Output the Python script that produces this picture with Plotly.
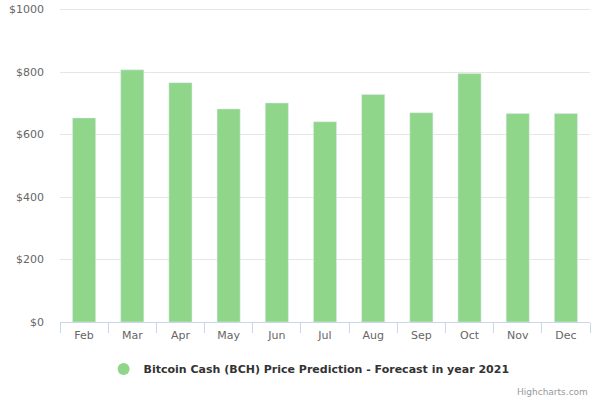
import plotly.graph_objects as go

months = ["Feb", "Mar", "Apr", "May", "Jun", "Jul", "Aug", "Sep", "Oct", "Nov", "Dec"]
prices = [653, 807, 766, 682, 701, 641, 728, 670, 795, 667, 667]
series_name = "Bitcoin Cash (BCH) Price Prediction - Forecast in year 2021"
y_ticks = [0, 200, 400, 600, 800, 1000]
y_labels = ["$0", "$200", "$400", "$600", "$800", "$1000"]

color = "#8fd68a"
font = "DejaVu Sans"

fig = go.Figure()
fig.add_trace(go.Bar(x=months, y=prices, marker_color=color, width=0.48,
                     showlegend=False, hoverinfo="x+y"))
fig.add_trace(go.Scatter(x=[months[0]], y=[None], mode="markers",
                         marker=dict(color=color, size=12, symbol="circle"),
                         name="<b>" + series_name + "</b>", showlegend=True))

fig.update_layout(
    width=600, height=399,
    margin=dict(l=60, r=10, t=8, b=77, autoexpand=False),
    paper_bgcolor="white", plot_bgcolor="white",
    font=dict(family=font, size=11, color="#666666"),
    bargap=0.52,
    xaxis=dict(
        type="category", range=[-0.5, len(months) - 0.5],
        showline=True, linecolor="#ccd6eb", linewidth=1,
        ticks="outside", tickson="boundaries", ticklen=10, tickcolor="#ccd6eb",
        showgrid=False, tickfont=dict(size=11, color="#666666"),
        ticklabelstandoff=3, automargin=False, fixedrange=True,
    ),
    yaxis=dict(
        range=[0, 1005], tickvals=y_ticks, ticktext=y_labels,
        showgrid=True, gridcolor="#e6e6e6", zeroline=False,
        tickfont=dict(size=11, color="#666666"), ticks="", ticklabelstandoff=15,
        automargin=False, fixedrange=True,
    ),
    legend=dict(orientation="h", x=0.47, xanchor="center", y=-0.15, yanchor="middle",
                font=dict(size=11, color="#333333", family=font)),
    annotations=[dict(text="Highcharts.com", xref="paper", yref="paper",
                      x=1.0, y=-0.2, xanchor="right", yanchor="top", showarrow=False,
                      font=dict(size=9, color="#999999", family=font))],
)

fig.write_html("out.html", config={"displayModeBar": False},
               post_script="document.body.style.margin='0';document.body.style.overflow='hidden';")
